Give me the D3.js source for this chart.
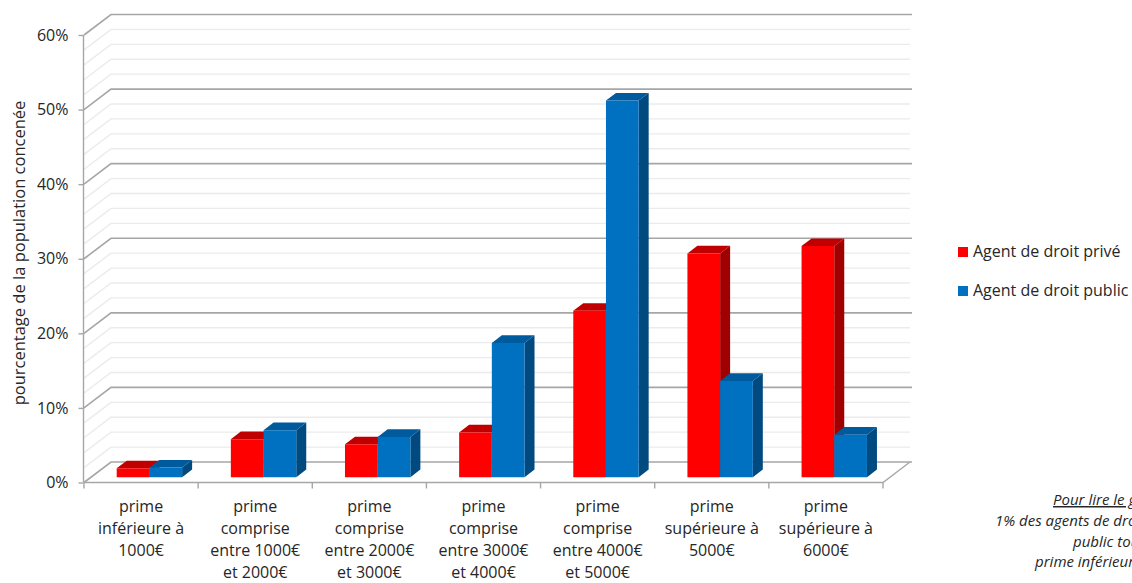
<!DOCTYPE html>
<html>
<head>
<meta charset="utf-8">
<script src="https://cdn.jsdelivr.net/npm/d3@7"></script>
<style>
  html, body { margin: 0; padding: 0; background: #fff; }
  svg { display: block; }
  text { font-family: "Open Sans", "Noto Sans", sans-serif; fill: #262626; }
</style>
</head>
<body>
<svg id="chart" width="1132" height="583"></svg>
<script>
// ---- data ----
const categories = ["c1", "c2", "c3", "c4", "c5", "c6", "c7"];
const categoryLabels = [
  ["prime", "inférieure à", "1000€"],
  ["prime", "comprise", "entre 1000€", "et 2000€"],
  ["prime", "comprise", "entre 2000€", "et 3000€"],
  ["prime", "comprise", "entre 3000€", "et 4000€"],
  ["prime", "comprise", "entre 4000€", "et 5000€"],
  ["prime", "supérieure à", "5000€"],
  ["prime", "supérieure à", "6000€"]
];
const seriesNames = ["Agent de droit privé", "Agent de droit public"];
const agentPrive  = [1.2, 5.1, 4.4, 6.0, 22.3, 30.0, 31.0];
const agentPublic = [1.3, 6.3, 5.4, 18.0, 50.5, 12.9, 5.7];
const yTickValues = [0, 10, 20, 30, 40, 50, 60];
const yTickLabels = ["0%", "10%", "20%", "30%", "40%", "50%", "60%"];
const yAxisTitle = "pourcentage de la population concenée";
const noteLines = ["Pour lire le graphique :", "1% des agents de droit privé et de droit", "public touchent une", "prime inférieure à 1000€"];

// ---- layout ----
const svg = d3.select("#chart");
const DX = 27, DY = 20.5;          // oblique depth offsets
const x = d3.scaleBand().domain(categories).range([84, 883]);
const y = d3.scaleLinear().domain([0, 60]).range([482.5, 35]);
const bw = x.bandwidth();
const xs = d3.scaleBand().domain(seriesNames).range([0.225 * bw, 0.798 * bw]);
const zFront = 0.26, zBack = 0.63;
const P = (px, v, z) => [px + z * DX, y(v) - z * DY];
const poly = pts => "M" + pts.map(p => p.join(",")).join("L") + "Z";

const colors = {
  "Agent de droit privé":  { front: "#ff0000", top: "#c00000", side: "#a00000" },
  "Agent de droit public": { front: "#0070c0", top: "#005a9e", side: "#004a80" }
};

// ---- walls: minor gridlines ----
const minorVals = d3.range(0, 61, 2).filter(v => v % 10 !== 0);
const x0 = x.range()[0], x1 = x.range()[1];
const grid = svg.append("g");
minorVals.forEach(v => {
  grid.append("path").attr("d", "M" + P(x0, v, 0) + "L" + P(x0, v, 1) + "L" + P(x1, v, 1))
    .attr("fill", "none").attr("stroke", "#ebebeb").attr("stroke-width", 1.4);
});
yTickValues.forEach(v => {
  grid.append("path").attr("d", "M" + P(x0, v, 0) + "L" + P(x0, v, 1) + "L" + [P(x1, v, 1)[0] + 2, P(x1, v, 1)[1]])
    .attr("fill", "none").attr("stroke", "#a6a6a6").attr("stroke-width", 1.6);
});
// floor edges
grid.append("path").attr("d", "M" + P(x0, 0, 0) + "L" + P(x1, 0, 0) + "L" + P(x1, 0, 1))
  .attr("fill", "none").attr("stroke", "#a6a6a6").attr("stroke-width", 1.4);
// front vertical axis
grid.append("line").attr("x1", x0 - 0.5).attr("x2", x0 - 0.5).attr("y1", y(0)).attr("y2", y(60))
  .attr("stroke", "#a6a6a6").attr("stroke-width", 1.4);

// y ticks + labels
const yAxis = d3.axisLeft(y).tickValues(yTickValues).tickSize(5).tickPadding(10)
  .tickFormat((d, i) => yTickLabels[i]);
const gy = svg.append("g").attr("transform", `translate(${x0 - 0.5},0)`).call(yAxis);
gy.select(".domain").remove();
gy.selectAll(".tick line").attr("stroke", "#a6a6a6").attr("stroke-width", 1.4);
gy.selectAll(".tick text").attr("font-size", 16).attr("font-family", "Open Sans").attr("fill", "#262626");

// x ticks (category boundaries)
const boundaries = categories.map(c => x(c)).concat([x1]);
svg.append("g").selectAll("line").data(boundaries).join("line")
  .attr("x1", d => d).attr("x2", d => d).attr("y1", y(0)).attr("y2", y(0) + 6)
  .attr("stroke", "#a6a6a6").attr("stroke-width", 1.4);

// category labels
const labG = svg.append("g");
categories.forEach((c, i) => {
  const t = labG.append("text").attr("text-anchor", "middle").attr("font-size", 16)
    .attr("x", x(c) + bw / 2).attr("y", 512);
  categoryLabels[i].forEach((line, j) => {
    t.append("tspan").attr("x", x(c) + bw / 2).attr("y", 512 + j * 22).text(line);
  });
});

// ---- bars ----
const barsG = svg.append("g");
const seriesData = [agentPrive, agentPublic];
categories.forEach((c, i) => {
  seriesNames.forEach((s, k) => {
    const v = seriesData[k][i];
    const bx = x(c) + xs(s), w = xs.bandwidth();
    const col = colors[s];
    barsG.append("path").attr("fill", col.side)
      .attr("d", poly([P(bx + w, 0, zFront), P(bx + w, v, zFront), P(bx + w, v, zBack), P(bx + w, 0, zBack)]));
    barsG.append("path").attr("fill", col.top)
      .attr("d", poly([P(bx, v, zFront), P(bx + w, v, zFront), P(bx + w, v, zBack), P(bx, v, zBack)]));
    barsG.append("path").attr("fill", col.front)
      .attr("d", poly([P(bx, 0, zFront), P(bx + w, 0, zFront), P(bx + w, v, zFront), P(bx, v, zFront)]));
  });
});

// y axis title
svg.append("text").attr("transform", "translate(25,253) rotate(-90)")
  .attr("text-anchor", "middle").attr("font-size", 16.5).text(yAxisTitle);

// legend
const leg = svg.append("g");
seriesNames.forEach((s, k) => {
  const ly = 247 + k * 39;
  leg.append("rect").attr("x", 958).attr("y", ly).attr("width", 10).attr("height", 10).attr("fill", colors[s].front);
  leg.append("text").attr("x", 973).attr("y", ly + 10).attr("font-size", 16).text(s);
});

// note
const noteX = [1053, 995, 1073, 1035];
const noteY = [505, 526, 547, 567];
noteLines.forEach((l, i) => {
  svg.append("text").attr("x", noteX[i]).attr("y", noteY[i]).attr("font-size", 15)
    .attr("font-style", "italic").attr("text-decoration", i === 0 ? "underline" : null).text(l);
});
</script>
</body>
</html>
